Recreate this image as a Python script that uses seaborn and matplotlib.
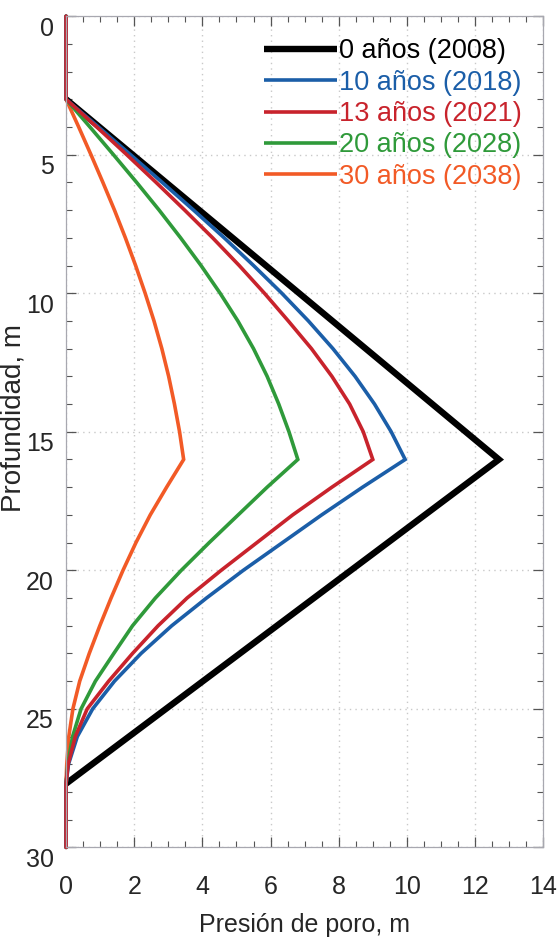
import numpy as np
import pandas as pd
import seaborn as sns
import matplotlib
matplotlib.use("Agg")
import matplotlib.pyplot as plt
from matplotlib.ticker import MultipleLocator
from matplotlib.transforms import ScaledTranslation
from matplotlib.lines import Line2D

# ---------------- data ----------------
series = ["0 años (2008)", "10 años (2018)", "13 años (2021)",
          "20 años (2028)", "30 años (2038)"]
colors = ["#000000", "#1b5ea8", "#c8232c", "#2f9a3a", "#f25a26"]

depth_0 = [3, 16, 27.7]
pres_0 = [0, 12.7, 0]

depth_c = [0, 3, 4, 5, 6, 7, 8, 9, 10, 11, 12, 13, 14, 15, 16,
           17, 18, 19, 20, 21, 22, 23, 24, 25, 26, 27, 27.7, 30]
pres_10 = [0, 0, 0.95, 1.89, 2.82, 3.74, 4.64, 5.5, 6.33, 7.11, 7.83, 8.48, 9.05, 9.54, 9.95,
           8.7, 7.5, 6.35, 5.2, 4.12, 3.1, 2.2, 1.42, 0.78, 0.33, 0.07, 0, 0]
pres_13 = [0, 0, 0.9, 1.78, 2.64, 3.48, 4.3, 5.08, 5.82, 6.52, 7.2, 7.8, 8.32, 8.72, 9.0,
           7.8, 6.65, 5.6, 4.55, 3.55, 2.7, 1.95, 1.25, 0.62, 0.27, 0.06, 0, 0]
pres_20 = [0, 0, 0.7, 1.39, 2.07, 2.73, 3.36, 3.96, 4.52, 5.04, 5.5, 5.9, 6.24, 6.54, 6.8,
           5.9, 5.05, 4.2, 3.38, 2.62, 1.95, 1.4, 0.86, 0.44, 0.19, 0.05, 0, 0]
pres_30 = [0, 0, 0.37, 0.73, 1.08, 1.42, 1.74, 2.04, 2.32, 2.58, 2.81, 3.01, 3.18, 3.33, 3.45,
           2.95, 2.47, 2.05, 1.67, 1.32, 0.99, 0.68, 0.4, 0.2, 0.08, 0.02, 0, 0]

x_ticks = [0, 2, 4, 6, 8, 10, 12, 14]
y_ticks = [0, 5, 10, 15, 20, 25, 30]

frames = [pd.DataFrame({"presion": pres_0, "prof": depth_0, "serie": series[0]})]
for name, vals in zip(series[1:], [pres_10, pres_13, pres_20, pres_30]):
    frames.append(pd.DataFrame({"presion": vals, "prof": depth_c, "serie": name}))
df = pd.concat(frames, ignore_index=True)

# ---------------- style ----------------
sns.set_style("ticks")
plt.rcParams["font.family"] = ["Liberation Sans", "DejaVu Sans"]

fig = plt.figure(figsize=(5.6, 9.5), dpi=100)
ax = fig.add_axes([0.118, 0.108, 0.852, 0.875])

lw_black, lw_col = 4.6, 2.6
draw_order = [series[0], series[4], series[3], series[1], series[2]]
cmap = dict(zip(series, colors))
for name in draw_order:
    sub = df[df["serie"] == name]
    sns.lineplot(data=sub, x="presion", y="prof", orient="y", sort=False,
                 estimator=None, color=cmap[name],
                 lw=lw_black if name == series[0] else lw_col,
                 ax=ax, legend=False, solid_joinstyle="miter",
                 clip_on=(name == series[0]))

ax.set_xlim(0, 14)
ax.set_ylim(30, 0)
ax.set_xticks(x_ticks)
ax.set_yticks(y_ticks)
ax.xaxis.set_minor_locator(MultipleLocator(0.5))
ax.yaxis.set_minor_locator(MultipleLocator(1))
ax.grid(True, which="major", color="#c9c9c9", linestyle=(0, (1, 3)), lw=1.0)
ax.set_axisbelow(True)

for s in ax.spines.values():
    s.set_color("#a8a8b0")
    s.set_linewidth(0.9)

ax.tick_params(axis="both", which="both", direction="in", top=True, right=True,
               color="#555555")
ax.tick_params(axis="both", which="major", length=7, width=0.9, labelsize=18)
ax.tick_params(axis="both", which="minor", length=4, width=0.8)
ax.tick_params(axis="x", which="major", pad=20)
ax.tick_params(axis="y", which="major", pad=9)

off = ScaledTranslation(0, -10 / 100, fig.dpi_scale_trans)
for lab in ax.get_yticklabels():
    lab.set_transform(lab.get_transform() + off)

ax.set_xlabel("Presión de poro, m", fontsize=18, labelpad=10)
ax.set_ylabel("Profundidad, m", fontsize=20)
ax.yaxis.set_label_coords(-0.082, 0.516)

handles = [Line2D([0], [0], color=c, lw=(lw_black if i == 0 else lw_col),
                  solid_capstyle="butt")
           for i, c in enumerate(colors)]
leg = ax.legend(handles, series, loc="upper right", bbox_to_anchor=(0.99, 0.993),
                frameon=False, fontsize=19.5, handlelength=2.7, handletextpad=0.1,
                labelspacing=0.2, labelcolor=colors, borderaxespad=0.2)

fig.savefig("out.png", dpi=100)
